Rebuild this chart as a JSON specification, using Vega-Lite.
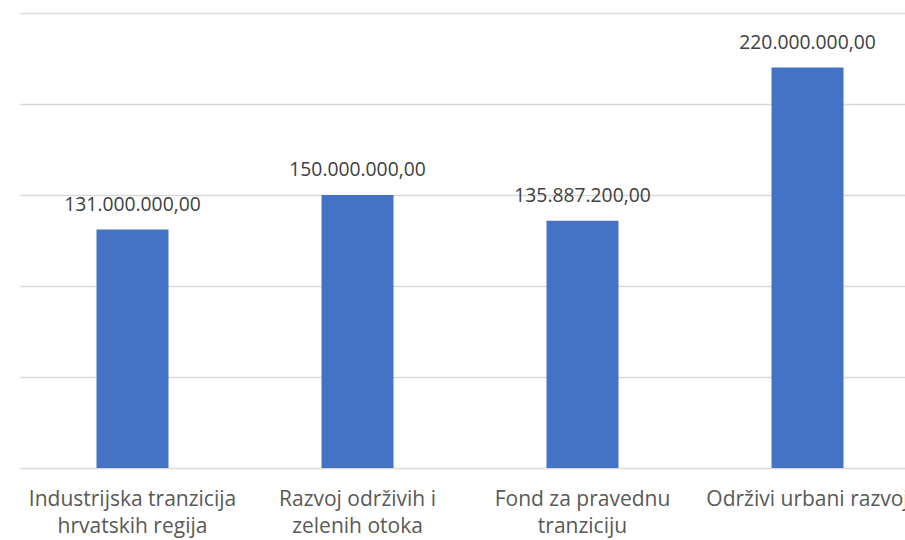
{
  "$schema": "https://vega.github.io/schema/vega-lite/v6.json",
  "autosize": {"type": "none"},
  "padding": {"left": 20, "top": 13, "right": 0, "bottom": 72},
  "width": 900,
  "height": 455,
  "background": "white",
  "config": {
    "view": {"stroke": null},
    "locale": {"number": {"decimal": ",", "thousands": ".", "grouping": [3], "currency": ["", " €"]}},
    "font": "Open Sans"
  },
  "data": {
    "values": [
      {"kategorija": "Industrijska tranzicija hrvatskih regija", "iznos": 131000000},
      {"kategorija": "Razvoj održivih i zelenih otoka", "iznos": 150000000},
      {"kategorija": "Fond za pravednu tranziciju", "iznos": 135887200},
      {"kategorija": "Održivi urbani razvoj", "iznos": 220000000}
    ]
  },
  "encoding": {
    "x": {
      "field": "kategorija",
      "type": "nominal",
      "sort": null,
      "scale": {"paddingInner": 0, "paddingOuter": 0},
      "axis": {
        "title": null,
        "domain": false,
        "ticks": false,
        "labelAngle": 0,
        "labelFontSize": 21,
        "labelColor": "#595959",
        "labelPadding": 20,
        "labelLineHeight": 27,
        "labelFont": "Open Sans",
        "labelLimit": 0,
        "labelOverlap": false,
        "labelBound": false,
        "labelExpr": "datum.value == 'Industrijska tranzicija hrvatskih regija' ? ['Industrijska tranzicija', 'hrvatskih regija'] : datum.value == 'Razvoj održivih i zelenih otoka' ? ['Razvoj održivih i', 'zelenih otoka'] : datum.value == 'Fond za pravednu tranziciju' ? ['Fond za pravednu', 'tranziciju'] : datum.value"
      }
    },
    "y": {
      "field": "iznos",
      "type": "quantitative",
      "scale": {"domain": [0, 250000000], "nice": false},
      "axis": {
        "title": null,
        "domain": false,
        "ticks": false,
        "labels": false,
        "values": [0, 50000000, 100000000, 150000000, 200000000, 250000000],
        "gridColor": "#d9d9d9",
        "gridWidth": 1.5
      }
    }
  },
  "layer": [
    {"mark": {"type": "bar", "color": "#4472C4", "width": {"band": 0.32}}},
    {
      "mark": {"type": "text", "baseline": "bottom", "dy": -15, "fontSize": 19.3, "color": "#404040", "font": "Open Sans"},
      "encoding": {"text": {"field": "iznos", "type": "quantitative", "format": ",.2f"}}
    }
  ]
}
